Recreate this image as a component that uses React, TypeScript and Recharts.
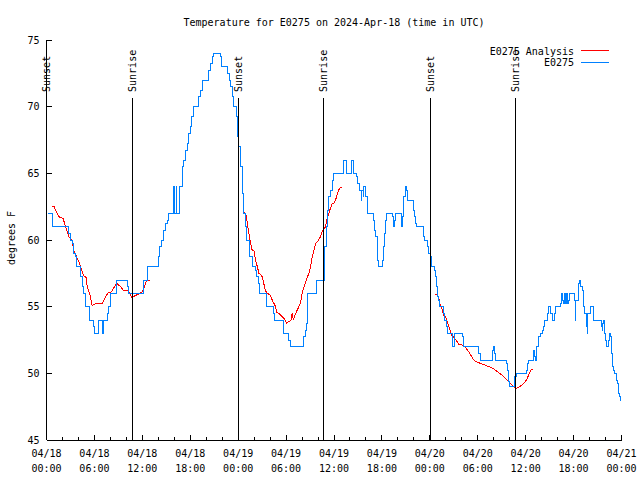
import React from 'react';
import { LineChart, Line, XAxis, YAxis, ReferenceLine } from 'recharts';

// hours since 2024-04-18 00:00 UTC, temperature (degrees F)
const observed: [number, number][] = [
  [0.15, 62], [0.8, 61], [2.8, 60.5], [3.0, 60], [3.3, 59.75], [3.4, 59], [3.6, 58.75], [3.76, 58], [4.26, 57.25], [4.5, 56.5], [4.6, 56], [4.9, 55], [5.4, 54], [5.9, 53.5], [6.05, 53], [6.5, 54], [6.95, 53], [7.15, 54], [7.6, 54.5], [7.8, 55], [8.0, 56], [8.75, 57], [10.1, 56.5], [10.3, 56], [12.1, 57], [12.7, 58], [14.07, 58.75], [14.2, 59.5], [14.4, 60], [14.6, 60.75], [14.9, 61.25], [15.1, 61.5], [15.3, 62], [15.85, 64], [15.88, 62], [16.05, 64], [16.08, 62], [16.25, 64], [16.28, 62], [16.6, 64], [17.0, 65.5], [17.2, 66], [17.4, 66.75], [17.6, 67.25], [17.8, 68], [18.0, 68.5], [18.2, 69.25], [18.4, 70], [19.07, 70.75], [19.3, 71.25], [19.5, 72], [20.3, 72.75], [20.5, 73.25], [20.75, 73.75], [20.9, 74], [21.8, 73.75], [21.9, 73], [22.7, 72.5], [22.95, 72], [23.1, 71.5], [23.25, 70.75], [23.45, 70], [23.8, 69.25], [23.96, 67.75], [24.1, 67], [24.25, 65.5], [24.5, 64.5], [24.6, 63.5], [24.7, 62], [24.9, 61], [25.1, 60], [25.45, 58.75], [25.75, 58], [26.2, 57.75], [26.3, 57.25], [26.6, 56.75], [26.7, 56], [27.55, 55], [28.4, 54.5], [28.55, 54], [29.7, 53], [30.3, 52.5], [30.55, 52], [32.2, 52.75], [32.4, 53.25], [32.6, 53.75], [32.7, 56], [33.8, 57], [34.8, 58.5], [34.85, 59.5], [35.06, 61], [35.2, 62.25], [35.35, 63.25], [35.5, 63.75], [35.8, 64.5], [35.9, 65], [37.2, 66], [37.6, 65], [38.15, 66], [38.5, 65], [38.8, 64.75], [39.0, 64.25], [39.2, 63.75], [39.4, 63], [39.5, 63.75], [39.65, 63.25], [39.7, 64], [39.9, 63.25], [40.16, 62], [40.9, 61.5], [41.07, 60.75], [41.2, 60.25], [41.4, 59.5], [41.5, 58.5], [41.55, 58], [42.1, 58.5], [42.2, 59.5], [42.3, 60.5], [42.45, 61.5], [42.6, 62], [43.36, 61.75], [43.5, 61], [43.6, 61.5], [43.7, 62], [44.4, 61.5], [44.5, 61], [44.6, 61.75], [44.7, 62.5], [44.75, 63.25], [44.9, 63.75], [45.0, 64], [45.1, 63.75], [45.17, 63.5], [45.25, 63], [45.9, 62.75], [46.0, 62.25], [46.1, 61.75], [46.2, 61.25], [46.3, 61], [47.2, 60.75], [47.25, 60.25], [47.3, 60], [47.7, 59.5], [47.8, 59], [48.08, 58.75], [48.2, 58], [48.6, 57.75], [48.7, 57.25], [48.8, 56.5], [48.9, 55.75], [49.1, 55.5], [49.25, 55], [49.7, 54.5], [49.8, 54], [50.1, 53.5], [50.25, 53], [50.8, 52], [51.1, 53], [52.05, 52.75], [52.2, 52.25], [52.25, 52], [54.1, 51.5], [54.3, 51], [55.9, 51.75], [56.0, 52], [56.1, 51.5], [56.2, 51], [57.6, 50.75], [57.7, 50.25], [57.8, 49.75], [57.9, 49.4], [58.0, 49], [58.6, 49.25], [58.65, 49.75], [58.8, 50], [60.1, 50.25], [60.2, 50.75], [60.3, 51], [61.0, 51.75], [61.1, 51.25], [61.2, 51], [61.36, 51.5], [61.4, 52], [61.6, 52.5], [61.65, 52.75], [61.8, 53], [62.07, 53.25], [62.2, 53.5], [62.36, 54], [62.7, 54.5], [62.8, 55], [63.1, 54.5], [63.3, 54], [63.65, 54.5], [63.7, 55], [64.3, 55.25], [64.5, 56], [64.57, 55.5], [64.7, 55.25], [64.9, 56], [65.0, 55.25], [65.1, 56], [65.2, 55.25], [65.4, 55.5], [65.5, 56], [66.1, 55.5], [66.2, 54], [66.3, 55.5], [66.6, 56.75], [66.8, 57], [66.87, 56.5], [67.1, 56.25], [67.2, 55.75], [67.3, 55], [67.4, 54.5], [67.6, 53.5], [67.7, 53], [67.8, 54.5], [68.1, 55], [68.45, 54.5], [68.5, 54], [69.45, 53.5], [69.6, 53.25], [69.66, 53.75], [69.8, 54], [69.9, 53], [70.0, 52.5], [70.1, 52], [70.4, 52.5], [70.5, 53], [70.6, 52.75], [70.7, 51.5], [70.9, 50.5], [70.97, 50.25], [71.1, 50], [71.4, 49.5], [71.5, 49.25], [71.65, 48.5], [71.7, 48.25], [71.85, 48], [71.95, 48],
];

const analysisDay1: [number, number][] = [
  [0.63, 62.55], [0.92, 62.55], [1.13, 62.25], [1.55, 61.75], [2.09, 61.6], [2.38, 61], [2.8, 60.25], [3.2, 60], [3.4, 59.25], [3.76, 58.75], [4.05, 58.4], [4.47, 57.6], [4.67, 57.3], [4.97, 57.2], [5.1, 56.5], [5.4, 56], [5.7, 55.1], [6.1, 55.2], [7.0, 55.25], [7.4, 55.75], [7.8, 56.1], [8.1, 56.1], [8.77, 56.75], [9.27, 56.5], [9.6, 56.25], [10.2, 56.2], [10.7, 55.7], [11.35, 55.9], [12.0, 56.1], [12.5, 56.9], [12.9, 57],
];
const analysisDay2: [number, number][] = [
  [24.8, 62.1], [25.04, 61.75], [25.2, 61], [25.35, 60.5], [25.55, 59.75], [25.75, 59.25], [25.96, 59.25], [26.17, 58.5], [26.4, 58], [26.6, 57.5], [26.8, 57.4], [27.0, 57.25], [27.2, 56.75], [27.4, 56.25], [27.6, 56], [27.97, 55.9], [28.26, 55.5], [28.47, 55.25], [28.7, 55], [28.8, 54.55], [29.1, 54.5], [29.5, 54.25], [29.9, 54], [30.05, 53.75], [30.35, 53.9], [30.6, 53.95], [30.76, 54.55], [30.9, 54], [31.05, 54.25], [31.4, 54.75], [31.6, 55], [31.8, 55.25], [32.0, 56], [32.2, 56.4], [32.4, 56.75], [32.6, 57.1], [32.85, 57.5], [33.06, 58], [33.27, 58.75], [33.5, 59.25], [33.7, 59.75], [33.97, 59.9], [34.3, 60.25], [34.6, 60.75], [34.9, 60.95], [35.1, 61.5], [35.35, 62], [35.56, 62.4], [35.77, 62.7], [36.0, 62.75], [36.2, 63], [36.4, 63.4], [36.6, 63.75], [36.8, 63.95], [37.0, 63.95],
];
const analysisDay3: [number, number][] = [
  [48.7, 55.95], [48.9, 55.95], [49.1, 55.75], [49.25, 55.25], [49.4, 55], [49.5, 54.9], [49.7, 54.4], [49.84, 54.3], [49.96, 54.25], [50.1, 54], [50.25, 53.75], [50.4, 53.5], [50.6, 53.1], [50.8, 52.8], [51.0, 52.7], [51.2, 52.55], [51.4, 52.4], [51.6, 52.2], [51.8, 52.15], [52.2, 52.1], [52.5, 51.9], [52.7, 51.75], [52.9, 51.6], [53.1, 51.4], [53.3, 51.2], [53.5, 51], [53.7, 50.9], [54.1, 50.8], [54.55, 50.7], [54.97, 50.6], [55.4, 50.5], [55.8, 50.4], [56.2, 50.25], [56.6, 50.05], [57.06, 49.85], [57.5, 49.6], [57.9, 49.4], [58.3, 49.1], [58.65, 48.9], [58.9, 48.9], [59.35, 49.05], [59.77, 49.25], [60.1, 49.5], [60.4, 49.9], [60.6, 50.2], [60.8, 50.3], [60.9, 50.3],
];

const sunHours = [0, 10.73, 24.02, 34.68, 48.05, 58.7];
const sunLabels = ['Sunset', 'Sunrise', 'Sunset', 'Sunrise', 'Sunset', 'Sunrise'];

const xTicks = [0, 2, 4, 6, 8, 10, 12, 14, 16, 18, 20, 22, 24, 26, 28, 30, 32, 34, 36, 38, 40, 42, 44, 46, 48, 50, 52, 54, 56, 58, 60, 62, 64, 66, 68, 70, 72];
const xDates = ['04/18', '04/18', '04/18', '04/18', '04/19', '04/19', '04/19', '04/19', '04/20', '04/20', '04/20', '04/20', '04/21'];
const xTimes = ['00:00', '06:00', '12:00', '18:00', '00:00', '06:00', '12:00', '18:00', '00:00', '06:00', '12:00', '18:00', '00:00'];
const yTicks = [45, 50, 55, 60, 65, 70, 75];

const FONT = 'DejaVu Sans Mono';
const BLUE = '#0080ff';
const RED = '#ff0000';

const toRows = (pairs: [number, number][]) => pairs.map(([h, t]) => ({ h, t }));
const observedRows = toRows(observed);
const analysisRows = [
  ...toRows(analysisDay1),
  { h: 18, t: null },
  ...toRows(analysisDay2),
  { h: 43, t: null },
  ...toRows(analysisDay3),
];

const BottomTick = (props: any) => {
  const { x, y, payload } = props;
  const v = payload.value as number;
  const major = v % 6 === 0;
  const i = v / 6;
  return (
    <g>
      <line x1={x} y1={y} x2={x} y2={y - (major ? 5 : 3)} stroke="#000" />
      {major && (
        <text fontFamily={FONT} fontSize={10} fill="#000" textAnchor="middle">
          <tspan x={x} y={y + 17}>{xDates[i]}</tspan>
          <tspan x={x} y={y + 32}>{xTimes[i]}</tspan>
        </text>
      )}
    </g>
  );
};

const TopTick = (props: any) => {
  const { x, y, payload } = props;
  const major = (payload.value as number) % 6 === 0;
  return <line x1={x} y1={y} x2={x} y2={y + (major ? 5 : 3)} stroke="#000" />;
};

const LeftTick = (props: any) => {
  const { x, y, payload } = props;
  return (
    <g>
      <line x1={x} y1={y} x2={x + 5} y2={y} stroke="#000" />
      <text x={x - 7} y={y} dy="0.35em" fontFamily={FONT} fontSize={10} fill="#000" textAnchor="end">
        {payload.value}
      </text>
    </g>
  );
};

const RightTick = (props: any) => {
  const { x, y } = props;
  return <line x1={x} y1={y} x2={x - 5} y2={y} stroke="#000" />;
};

const SunLabel = (props: any) => {
  const { viewBox, text } = props;
  const x = viewBox.x + 3.8;
  const y = viewBox.y - 6.3;
  return (
    <text transform={`translate(${x},${y}) rotate(-90)`} fontFamily={FONT} fontSize={10} fill="#000" textAnchor="start">
      {text}
    </text>
  );
};

export default function App() {
  return (
    <div style={{ position: 'absolute', left: 0, top: 0, width: 640, height: 480, background: '#fff' }}>
      <style>{`.recharts-surface path, .recharts-surface line { shape-rendering: crispEdges; }`}</style>
      <LineChart width={640} height={480} margin={{ top: 40, right: 18.5, bottom: 0, left: 0 }}>
        <XAxis
          dataKey="h"
          type="number"
          domain={[0, 72]}
          ticks={xTicks}
          interval={0}
          allowDataOverflow
          height={40}
          tickSize={0}
          tickMargin={0}
          tickLine={false}
          axisLine={{ stroke: '#000' }}
          tick={<BottomTick />}
        />
        <XAxis
          xAxisId="top"
          orientation="top"
          dataKey="h"
          type="number"
          domain={[0, 72]}
          ticks={xTicks}
          interval={0}
          allowDataOverflow
          height={0}
          tickSize={0}
          tickMargin={0}
          tickLine={false}
          axisLine={{ stroke: '#000' }}
          tick={<TopTick />}
        />
        <YAxis
          type="number"
          domain={[45, 75]}
          ticks={yTicks}
          interval={0}
          allowDataOverflow
          width={46.5}
          tickSize={0}
          tickMargin={0}
          tickLine={false}
          axisLine={{ stroke: '#000' }}
          tick={<LeftTick />}
        />
        <YAxis
          yAxisId="right"
          orientation="right"
          type="number"
          domain={[45, 75]}
          ticks={yTicks}
          interval={0}
          allowDataOverflow
          width={0}
          tickSize={0}
          tickMargin={0}
          tickLine={false}
          axisLine={{ stroke: '#000' }}
          tick={<RightTick />}
        />
        <Line
          data={analysisRows}
          dataKey="t"
          type="linear"
          stroke={RED}
          strokeWidth={1}
          dot={false}
          connectNulls={false}
          isAnimationActive={false}
        />
        <Line
          data={observedRows}
          dataKey="t"
          type="stepAfter"
          stroke={BLUE}
          strokeWidth={1}
          dot={false}
          isAnimationActive={false}
        />
        {sunHours.map((h, i) => (
          <ReferenceLine
            key={i}
            segment={[{ x: h, y: 45 }, { x: h, y: 70.63 }]}
            stroke="#000"
            strokeWidth={1}
            ifOverflow="visible"
            label={<SunLabel text={sunLabels[i]} />}
          />
        ))}
      </LineChart>
      <svg
        width={640}
        height={480}
        style={{ position: 'absolute', left: 0, top: 0, pointerEvents: 'none' }}
      >
        <text x={334} y={26} textAnchor="middle" fontFamily={FONT} fontSize={10} fill="#000">
          Temperature for E0275 on 2024-Apr-18 (time in UTC)
        </text>
        <text transform="translate(15,238) rotate(-90)" textAnchor="middle" fontFamily={FONT} fontSize={10} fill="#000">
          degrees F
        </text>
        <text x={574} y={54.5} textAnchor="end" fontFamily={FONT} fontSize={10} fill="#000">
          E0275 Analysis
        </text>
        <line x1={581} y1={50.5} x2={609} y2={50.5} stroke={RED} strokeWidth={1} />
        <text x={574} y={66} textAnchor="end" fontFamily={FONT} fontSize={10} fill="#000">
          E0275
        </text>
        <line x1={581} y1={62.5} x2={609} y2={62.5} stroke={BLUE} strokeWidth={1} />
      </svg>
    </div>
  );
}
